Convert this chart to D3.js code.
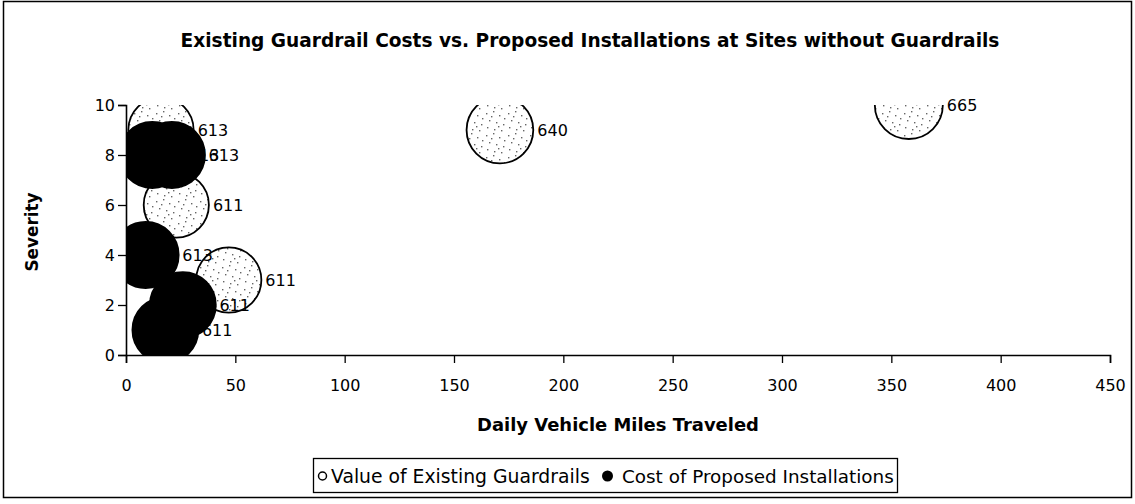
<!DOCTYPE html>
<html>
<head>
<meta charset="utf-8">
<script src="https://cdn.jsdelivr.net/npm/d3@7"></script>
<style>
  html, body { margin: 0; padding: 0; background: #fff; }
  svg { display: block; }
</style>
</head>
<body>
<svg id="chart" width="1135" height="504"></svg>
<script>
// ---- data ----
const titleText = "Existing Guardrail Costs vs. Proposed Installations at Sites without Guardrails";
const xTitle = "Daily Vehicle Miles Traveled";
const yTitle = "Severity";
const seriesNames = ["Value of Existing Guardrails", "Cost of Proposed Installations"];

const xTicks = [0, 50, 100, 150, 200, 250, 300, 350, 400, 450];
const yTicks = [0, 2, 4, 6, 8, 10];

// Series 1: Value of Existing Guardrails
const existX = [16, 23, 47, 171, 358];
const existY = [9, 6, 3, 9, 10];
const existSize = [613, 611, 611, 640, 665];
const existLabels = ["613", "611", "611", "640", "665"];

// Series 2: Cost of Proposed Installations
const propX = [12, 21, 9, 26, 18];
const propY = [8, 8, 4, 2, 1];
const propSize = [613, 613, 613, 611, 611];
const propLabels = ["613", "613", "613", "611", "611"];

// ---- layout ----
const plot = { left: 126, right: 1110, top: 105, bottom: 355 };
const font = "'DejaVu Sans', Verdana, sans-serif";

const svg = d3.select("#chart");

// outer frame
svg.append("rect").attr("x", 3.5).attr("y", 1.5).attr("width", 1128).attr("height", 496)
  .attr("fill", "#fff").attr("stroke", "#000").attr("stroke-width", 1.5);

const x = d3.scaleLinear().domain([0, 450]).range([plot.left, plot.right]);
const y = d3.scaleLinear().domain([0, 10]).range([plot.bottom, plot.top]);
const r = d3.scaleSqrt().domain([0, 665]).range([0, 34]);

// stipple pattern
const defs = svg.append("defs");
const pat = defs.append("pattern").attr("id", "stipple").attr("patternUnits", "userSpaceOnUse")
  .attr("width", 22).attr("height", 22);
pat.append("rect").attr("width", 22).attr("height", 22).attr("fill", "#fff");
const dots = [[2,3],[9,1],[15,5],[5,10],[12,12],[19,14],[3,17],[10,19],[17,20],[7,6],[14,16],[20,8]];
pat.selectAll("rect.d").data(dots).join("rect").attr("class", "d")
  .attr("x", d => d[0]).attr("y", d => d[1]).attr("width", 1.4).attr("height", 1.4).attr("fill", "#666");

defs.append("clipPath").attr("id", "plotClip").append("rect")
  .attr("x", plot.left).attr("y", plot.top)
  .attr("width", plot.right - plot.left).attr("height", plot.bottom - plot.top);

// fit a text element to a target width by adjusting font size
function fitWidth(sel, target) {
  const node = sel.node();
  const fs = parseFloat(sel.attr("font-size"));
  const w = node.getComputedTextLength();
  if (w > 0) sel.attr("font-size", (fs * target / w).toFixed(2));
  return sel;
}

// title
const t = svg.append("text").attr("x", 590).attr("y", 47).attr("text-anchor", "middle")
  .attr("font-family", font).attr("font-weight", "bold").attr("font-size", 19)
  .text(titleText);
fitWidth(t, 819);

// bubbles
const g = svg.append("g").attr("clip-path", "url(#plotClip)");
const exist = existX.map((v, i) => ({ x: v, y: existY[i], s: existSize[i], l: existLabels[i] }));
const prop = propX.map((v, i) => ({ x: v, y: propY[i], s: propSize[i], l: propLabels[i] }));

g.selectAll("circle.exist").data(exist).join("circle").attr("class", "exist")
  .attr("cx", d => x(d.x)).attr("cy", d => y(d.y)).attr("r", d => r(d.s))
  .attr("fill", "url(#stipple)").attr("stroke", "#000").attr("stroke-width", 1.8);

g.selectAll("circle.prop").data(prop).join("circle").attr("class", "prop")
  .attr("cx", d => x(d.x)).attr("cy", d => y(d.y)).attr("r", d => r(d.s))
  .attr("fill", "#000").attr("stroke", "#000").attr("stroke-width", 2.5);

// axes
const xAxis = d3.axisBottom(x).tickValues(xTicks).tickSize(8).tickPadding(17);
const gx = svg.append("g").attr("transform", `translate(0,${plot.bottom})`).call(xAxis);
const yAxis = d3.axisLeft(y).tickValues(yTicks).tickSize(8).tickPadding(3);
const gy = svg.append("g").attr("transform", `translate(${plot.left},0)`).call(yAxis);
[gx, gy].forEach(a => {
  a.select(".domain").attr("stroke", "#000").attr("stroke-width", 1.6);
  a.selectAll(".tick line").attr("stroke", "#000").attr("stroke-width", 1.3);
  a.selectAll(".tick text").attr("font-family", font).attr("font-size", 16).attr("fill", "#000");
});

// data labels (drawn on top of all bubbles, as in the original)
const labels = exist.concat(prop);
svg.append("g").selectAll("text").data(labels).join("text")
  .attr("x", d => x(d.x) + r(d.s) + 4).attr("y", d => y(d.y))
  .attr("dy", "0.36em")
  .attr("font-family", font).attr("font-size", 16).attr("fill", "#000")
  .text(d => d.l);

// axis titles
const xt = svg.append("text").attr("x", (plot.left + plot.right) / 2).attr("y", 431)
  .attr("text-anchor", "middle")
  .attr("font-family", font).attr("font-weight", "bold").attr("font-size", 18)
  .text(xTitle);
fitWidth(xt, 282);
const yt = svg.append("text").attr("transform", `translate(38,232) rotate(-90)`)
  .attr("text-anchor", "middle")
  .attr("font-family", font).attr("font-weight", "bold").attr("font-size", 18)
  .text(yTitle);
fitWidth(yt, 79);

// legend
const lg = svg.append("g");
lg.append("rect").attr("x", 313.5).attr("y", 458.5).attr("width", 584).attr("height", 34)
  .attr("fill", "#fff").attr("stroke", "#000").attr("stroke-width", 1.3);
lg.append("circle").attr("cx", 322.5).attr("cy", 476).attr("r", 4)
  .attr("fill", "#fff").attr("stroke", "#000").attr("stroke-width", 1.5);
const l1 = lg.append("text").attr("x", 331).attr("y", 483)
  .attr("font-family", font).attr("font-size", 18).text(seriesNames[0]);
fitWidth(l1, 259);
lg.append("circle").attr("cx", 607.5).attr("cy", 476).attr("r", 5.5)
  .attr("fill", "#000");
const l2 = lg.append("text").attr("x", 622).attr("y", 483)
  .attr("font-family", font).attr("font-size", 18).text(seriesNames[1]);
fitWidth(l2, 272);
</script>
</body>
</html>
